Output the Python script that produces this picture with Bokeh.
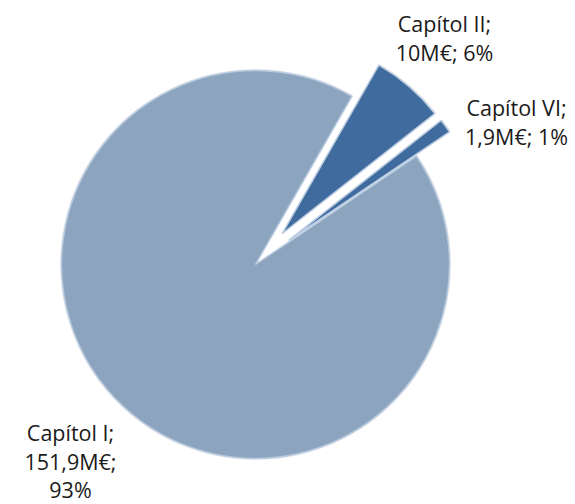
import math
from bokeh.plotting import figure
from bokeh.models import Range1d, ColumnDataSource
from bokeh.core.properties import value
from bokeh.embed import file_html
from bokeh.resources import INLINE

# ---- data ----
categories = ["Capítol I", "Capítol II", "Capítol VI"]
amounts = [151.9, 10.0, 1.9]          # M€
amount_labels = ["151,9M€", "10M€", "1,9M€"]
colors = ["#8DA4BF", "#3F6B9F", "#3F6B9F"]
explode = [0.0, 41.0, 41.0]           # px
first_slice_angle = 56.0              # degrees clockwise from 12 o'clock

W, H = 575, 504
p = figure(width=W, height=H, output_backend="svg", toolbar_location=None,
           x_range=Range1d(0, W), y_range=Range1d(0, H), min_border=0)
p.axis.visible = False
p.grid.visible = False
p.outline_line_color = None
p.background_fill_color = "white"

cx, cy, R = 255.0, H - 264.0, 194.0
total = sum(amounts)

xs, ys, starts, ends = [], [], [], []
cum = first_slice_angle
for a, e in zip(amounts, explode):
    span = a / total * 360.0
    s_cw, e_cw = cum, cum + span
    mid = (s_cw + e_cw) / 2.0
    mid_rad = math.radians(90.0 - mid)
    xs.append(cx + e * math.cos(mid_rad))
    ys.append(cy + e * math.sin(mid_rad))
    starts.append(math.radians(90.0 - s_cw))
    ends.append(math.radians(90.0 - e_cw))
    cum = e_cw

src = ColumnDataSource(dict(x=xs, y=ys, start=starts, end=ends, color=colors))
# soft shadow
p.wedge(x="x", y="y", radius=R + 1.5, start_angle="start", end_angle="end",
        direction="clock", fill_color="#C8C8C8", fill_alpha=0.35, line_color=None,
        source=src)
p.wedge(x="x", y="y", radius=R, start_angle="start", end_angle="end",
        direction="clock", fill_color="color", line_color="#B9CBE0", line_width=1.5,
        source=src)

# labels
pcts = [round(a / total * 100) for a in amounts]
label_lines = [
    [categories[0] + ";", amount_labels[0] + ";", f"{pcts[0]}%"],
    [categories[1] + ";", f"{amount_labels[1]}; {pcts[1]}%"],
    [categories[2] + ";", f"{amount_labels[2]}; {pcts[2]}%"],
]
# screen-pixel anchors of first line centre
anchors = [(70, 432), (444, 23), (516, 107)]
lh = 28.5
tx, ty, tt = [], [], []
for lines, (ax, ay) in zip(label_lines, anchors):
    for i, ln in enumerate(lines):
        tx.append(ax)
        ty.append(H - (ay + i * lh))
        tt.append(ln)
p.text(x=tx, y=ty, text=tt, text_font=value("Open Sans"), text_font_size="21.5px",
       text_align="center", text_baseline="middle", text_color="#1A1A1A")

open("out.html", "w").write(file_html(p, INLINE))
